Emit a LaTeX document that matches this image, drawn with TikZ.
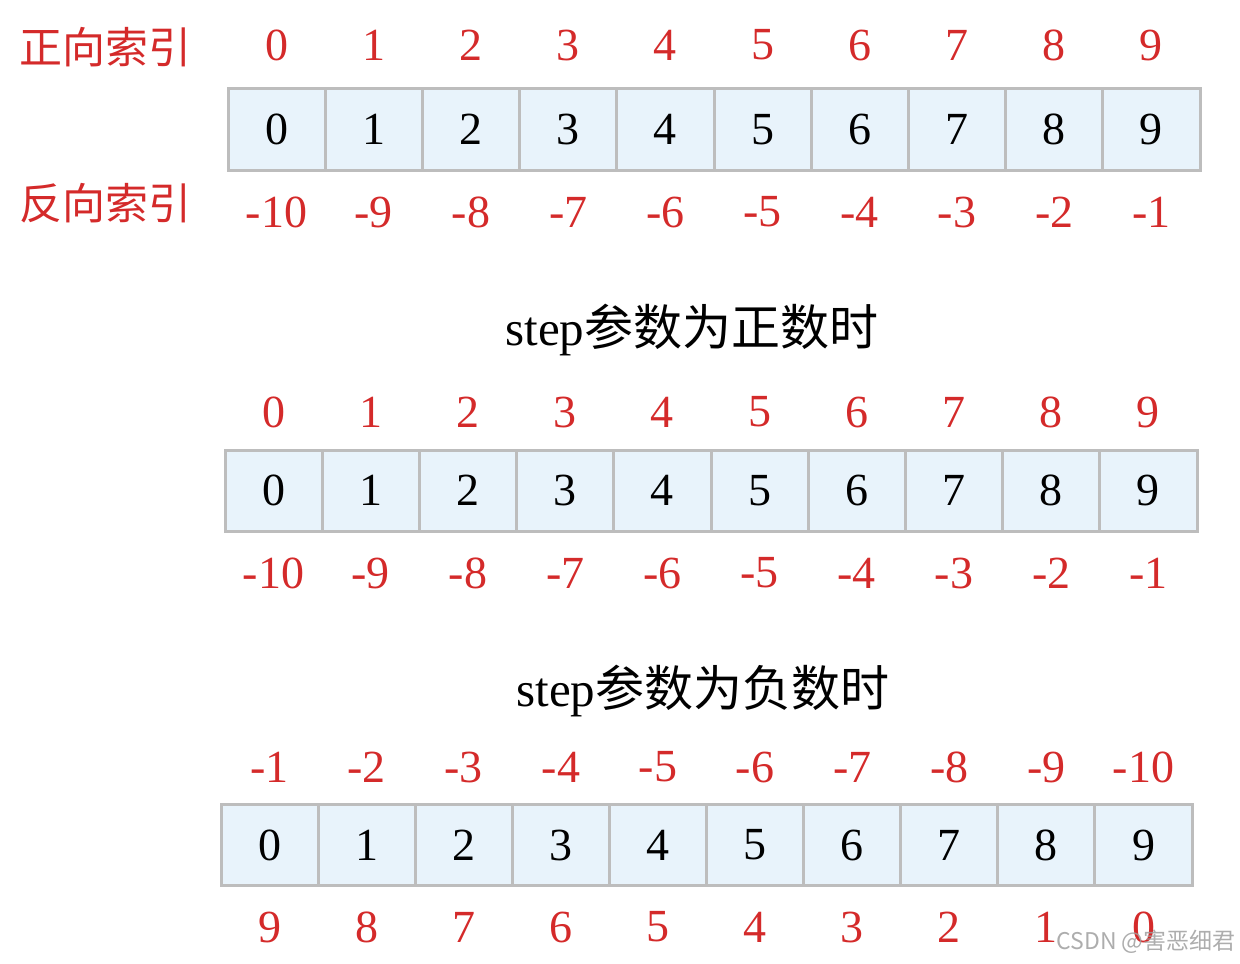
\documentclass[tikz,border=0pt]{standalone}
\usepackage{fontspec}
\setmainfont{Liberation Serif}
\newfontfamily\cjk{Noto Sans CJK SC}
\definecolor{idxred}{HTML}{D42A2A}
\definecolor{cellfill}{HTML}{E8F3FB}
\definecolor{cellline}{HTML}{BDBDBD}
\begin{document}
\begin{tikzpicture}[x=0.5pt,y=-0.5pt,
  cellbox/.style={draw=cellline,line width=1.5pt,fill=cellfill,minimum width=48.6pt,minimum height=40.5pt,inner sep=0pt,font=\fontsize{23pt}{24pt}\selectfont,text=black},
  idx/.style={text=idxred,inner sep=0pt,font=\fontsize{23pt}{24pt}\selectfont},
  rowlabel/.style={text=idxred,inner sep=0pt,font=\cjk\fontsize{21.5pt}{22pt}\selectfont},
  title/.style={text=black,inner sep=0pt,anchor=base,font=\fontsize{24.5pt}{25pt}\selectfont},
  wmark/.style={text=gray!75,opacity=0.85,inner sep=0pt,font=\cjk\fontsize{11.5pt}{12pt}\selectfont}]
\useasboundingbox (0,0) rectangle (1240,963);
% labels
\node[rowlabel] (fwd) at (105,47) {正向索引};
\node[rowlabel] (bwd) at (105,203) {反向索引};
% array 1
\foreach \i in {0,...,9}{
  \pgfmathsetmacro{\cx}{276.6+97.2*\i}
  \pgfmathtruncatemacro{\nval}{\i-10}
  \node[cellbox] (ac\i) at (\cx,129.5) {\i};
  \node[idx] (at\i) at (\cx,45) {\i};
  \node[idx] (ab\i) at (\cx,212) {\nval};
}
% title 1
\node[title] (t1) at (692,345) {step{\cjk 参数为正数时}};
% array 2
\foreach \i in {0,...,9}{
  \pgfmathsetmacro{\cx}{273.6+97.2*\i}
  \pgfmathtruncatemacro{\nval}{\i-10}
  \node[cellbox] (bc\i) at (\cx,490.5) {\i};
  \node[idx] (bt\i) at (\cx,412) {\i};
  \node[idx] (bb\i) at (\cx,573) {\nval};
}
% title 2
\node[title] (t2) at (703,706) {step{\cjk 参数为负数时}};
% array 3
\foreach \i in {0,...,9}{
  \pgfmathsetmacro{\cx}{269.6+97.1*\i}
  \pgfmathtruncatemacro{\nval}{-\i-1}
  \pgfmathtruncatemacro{\rev}{9-\i}
  \node[cellbox] (cc\i) at (\cx,845) {\i};
  \node[idx] (ct\i) at (\cx,767) {\nval};
  \node[idx] (cb\i) at (\cx,927) {\rev};
}
% watermark
\node[wmark,anchor=east] (wm) at (1236,942) {CSDN @害恶细君};
\end{tikzpicture}
\end{document}
